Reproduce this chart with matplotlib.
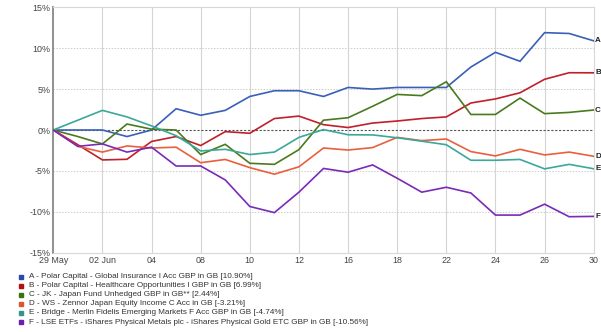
import matplotlib
matplotlib.use("Agg")
import matplotlib.pyplot as plt
import numpy as np

plt.rcParams['font.family'] = ['Liberation Sans', 'DejaVu Sans']

dates = ["29 May", "01 Jun", "02 Jun", "03 Jun", "04 Jun", "05 Jun", "08 Jun", "09 Jun",
         "10 Jun", "11 Jun", "12 Jun", "15 Jun", "16 Jun", "17 Jun", "18 Jun", "19 Jun",
         "22 Jun", "23 Jun", "24 Jun", "25 Jun", "26 Jun", "29 Jun", "30 Jun"]
tick_labels = ["29 May", "02 Jun", "04", "08", "10", "12", "16", "18", "22", "24", "26", "30"]

series_a = [0, 0, 0, -0.8, 0, 2.6, 1.8, 2.4, 4.1, 4.8, 4.8, 4.1, 5.2, 5.0, 5.2, 5.2, 5.2, 7.7, 9.5, 8.4, 11.9, 11.8, 10.9]
series_b = [0, -1.8, -3.66, -3.58, -1.4, -0.8, -1.9, -0.2, -0.4, 1.4, 1.7, 0.65, 0.3, 0.85, 1.1, 1.4, 1.6, 3.3, 3.8, 4.55, 6.2, 7.0, 6.99]
series_c = [0, -0.8, -1.7, 0.73, 0.1, 0, -3.0, -1.75, -4.07, -4.2, -2.4, 1.2, 1.5, 2.9, 4.35, 4.2, 5.9, 1.9, 1.9, 3.9, 2.0, 2.15, 2.44]
series_d = [0, -2.0, -2.7, -1.95, -2.2, -2.1, -4.0, -3.6, -4.6, -5.4, -4.5, -2.2, -2.45, -2.15, -0.9, -1.3, -1.1, -2.64, -3.17, -2.36, -3.05, -2.7, -3.21]
series_e = [0, 1.2, 2.4, 1.6, 0.5, -0.7, -2.56, -2.36, -3.0, -2.7, -0.9, 0.05, -0.58, -0.6, -0.95, -1.37, -1.8, -3.7, -3.7, -3.6, -4.75, -4.2, -4.74]
series_f = [0, -2.0, -1.7, -2.7, -2.1, -4.4, -4.4, -6.1, -9.35, -10.1, -7.6, -4.7, -5.16, -4.27, -5.9, -7.6, -7.0, -7.7, -10.4, -10.4, -9.07, -10.6, -10.56]

letters = ["A", "B", "C", "D", "E", "F"]
names = ["A - Polar Capital - Global Insurance I Acc GBP in GB [10.90%]",
         "B - Polar Capital - Healthcare Opportunities I GBP in GB [6.99%]",
         "C - JK - Japan Fund Unhedged GBP in GB** [2.44%]",
         "D - WS - Zennor Japan Equity Income C Acc in GB [-3.21%]",
         "E - Bridge - Merlin Fidelis Emerging Markets F Acc GBP in GB [-4.74%]",
         "F - LSE ETFs - iShares Physical Metals plc - iShares Physical Gold ETC GBP in GB [-10.56%]"]
line_colors = ["#3a5fb8", "#c0202a", "#4a7a1e", "#e8603c", "#3aa89a", "#7a2ab8"]
legend_colors = ["#2a4aa8", "#b01010", "#3f7010", "#e05530", "#30988a", "#6a1eb0"]

all_series = [series_a, series_b, series_c, series_d, series_e, series_f]

W, H = 601, 332
fig = plt.figure(figsize=(W / 100, H / 100), dpi=100)
x0, x1 = 53.3, 593.7
ytop, ybot = 7.3, 252.7
ax = fig.add_axes([x0 / W, 1 - ybot / H, (x1 - x0) / W, (ybot - ytop) / H])

x = np.arange(len(dates))
# gridlines
for v in [-10, -5, 5, 10]:
    ax.axhline(v, color="#cccccc", lw=0.7, ls=(0, (1.5, 1.5)), zorder=1)
ax.axhline(0, color="#555555", lw=0.8, ls=(0, (2, 1.5)), zorder=1.5)
tick_pos = x[::2]
for t in tick_pos[1:-1]:
    ax.axvline(t, color="#d4d4d4", lw=0.8, zorder=1)

for s, c in zip(all_series, line_colors):
    ax.plot(x, s, color=c, lw=1.2, zorder=3, solid_joinstyle="miter")

for s, l in zip(all_series, letters):
    ax.annotate(l, xy=(x[-1], s[-1]), xytext=(1.0, 0), textcoords="offset points",
                fontsize=5.8, fontweight="bold", va="center", ha="left", color="#222222",
                annotation_clip=False)

ax.set_xlim(0, len(dates) - 1)
ax.set_ylim(-15, 15)
ax.set_xticks(tick_pos)
ax.set_xticklabels(tick_labels)
ax.set_yticks([-15, -10, -5, 0, 5, 10, 15])
ax.set_yticklabels(["-15%", "-10%", "-5%", "0%", "5%", "10%", "15%"])
ax.tick_params(axis="both", length=0, labelsize=6.4, colors="#444444", pad=2)
ax.tick_params(axis="x", pad=2.5)

for sp in ["top", "right", "bottom"]:
    ax.spines[sp].set_color("#d8d8d8")
    ax.spines[sp].set_linewidth(0.8)
ax.spines["left"].set_color("#888888")
ax.spines["left"].set_linewidth(1.3)

# legend
for i, (n, c) in enumerate(zip(names, legend_colors)):
    yy = 276.8 + i * 9.05
    fig.patches.append(plt.Rectangle(((19.2) / W, 1 - (yy + 2.1) / H), 4.2 / W, 4.2 / H,
                                     transform=fig.transFigure, color=c, figure=fig))
    fig.text(29.3 / W, 1 - yy / H, n, fontsize=5.85, color="#333333", va="center", ha="left")

fig.savefig("out.png", dpi=100)
